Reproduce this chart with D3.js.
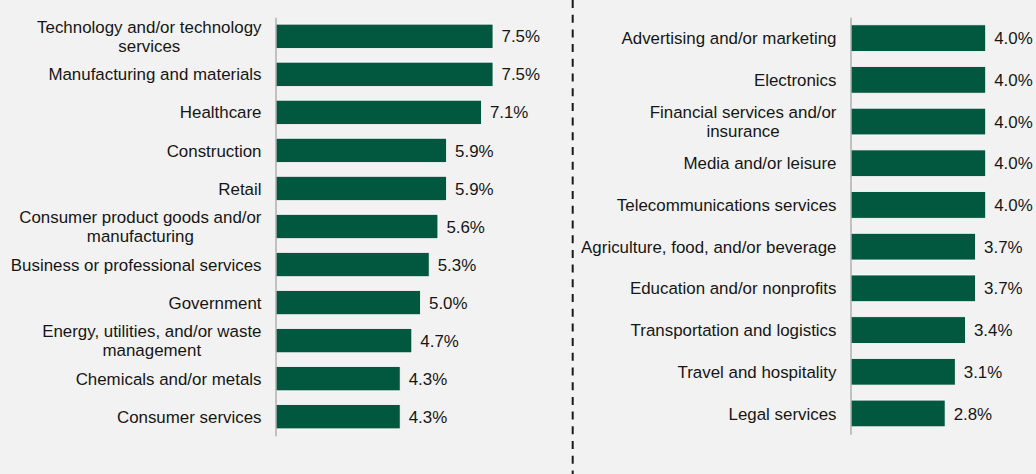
<!DOCTYPE html>
<html>
<head>
<meta charset="utf-8">
<script src="https://cdn.jsdelivr.net/npm/d3@7"></script>
<style>
  html, body { margin: 0; padding: 0; background: #f2f2f2; }
  svg { display: block; }
  text { font-family: "Liberation Sans", Arial, sans-serif; fill: #161616; }
</style>
</head>
<body>
<svg id="chart" width="1036" height="474"></svg>
<script>
// Industry shares, split across two panels (labels use "|" for line breaks)
const leftCategories = [
  "Technology and/or technology|services",
  "Manufacturing and materials",
  "Healthcare",
  "Construction",
  "Retail",
  "Consumer product goods and/or|manufacturing",
  "Business or professional services",
  "Government",
  "Energy, utilities, and/or waste|management",
  "Chemicals and/or metals",
  "Consumer services"
];
const leftValues = [7.5, 7.5, 7.1, 5.9, 5.9, 5.6, 5.3, 5.0, 4.7, 4.3, 4.3];

const rightCategories = [
  "Advertising and/or marketing",
  "Electronics",
  "Financial services and/or|insurance",
  "Media and/or leisure",
  "Telecommunications services",
  "Agriculture, food, and/or beverage",
  "Education and/or nonprofits",
  "Transportation and logistics",
  "Travel and hospitality",
  "Legal services"
];
const rightValues = [4.0, 4.0, 4.0, 4.0, 4.0, 3.7, 3.7, 3.4, 3.1, 2.8];

const barColor = "#02573f";
const fontSize = 16.9;
const svg = d3.select("#chart");

function drawPanel(categories, values, opts) {
  const data = categories.map((c, i) => ({ cat: c, value: values[i] }));
  const g = svg.append("g");

  const y = d3.scaleBand()
    .domain(categories)
    .range([opts.top, opts.bottom])
    .paddingInner(0.36)
    .paddingOuter(0.18);

  const x = d3.scaleLinear()
    .domain([0, opts.maxValue])
    .range([opts.axisX, opts.axisX + opts.maxValue * opts.pxPerUnit]);

  // bars
  g.selectAll("rect.bar")
    .data(data)
    .join("rect")
    .attr("class", "bar")
    .attr("x", x(0))
    .attr("y", d => y(d.cat))
    .attr("width", d => x(d.value) - x(0))
    .attr("height", y.bandwidth())
    .attr("fill", barColor)
    .attr("stroke", "#ffffff")
    .attr("stroke-width", 0.8);

  // value labels
  g.selectAll("text.value")
    .data(data)
    .join("text")
    .attr("class", "value")
    .attr("x", d => x(d.value) + 8.5)
    .attr("y", d => y(d.cat) + y.bandwidth() / 2)
    .attr("dy", "0.36em")
    .attr("font-size", fontSize)
    .text(d => d.value.toFixed(1) + "%");

  // category axis line
  const axis = d3.axisLeft(y).tickSize(0).tickFormat("");
  const axisG = g.append("g")
    .attr("transform", `translate(${opts.axisX},0)`)
    .call(axis);
  axisG.select(".domain").attr("stroke", "#b0b0b0").attr("stroke-width", 1.5);

  // category labels: wrapped lines centred within a right-aligned block
  const lineH = 19;
  const rightEdge = opts.axisX - 14;
  data.forEach(d => {
    const lines = d.cat.split("|");
    const t = g.append("text")
      .attr("font-size", fontSize)
      .attr("text-anchor", lines.length > 1 ? "middle" : "end");
    const cy = y(d.cat) + y.bandwidth() / 2;
    const y0 = cy - (lines.length - 1) * lineH / 2;
    const spans = lines.map((ln, i) => t.append("tspan")
      .attr("y", y0 + i * lineH)
      .attr("dy", "0.36em")
      .text(ln));
    if (lines.length > 1) {
      const w = d3.max(spans, s => s.node().getComputedTextLength());
      spans.forEach(s => s.attr("x", rightEdge - w / 2));
    } else {
      spans.forEach(s => s.attr("x", rightEdge));
    }
  });
}

drawPanel(leftCategories, leftValues, {
  axisX: 275.5, top: 17.3, bottom: 435.7, maxValue: 8, pxPerUnit: 29.0
});
drawPanel(rightCategories, rightValues, {
  axisX: 850.5, top: 17.3, bottom: 434.3, maxValue: 4.5, pxPerUnit: 33.8
});

// dashed divider between the two panels
svg.append("line")
  .attr("x1", 572.7).attr("x2", 572.7)
  .attr("y1", 0).attr("y2", 474)
  .attr("stroke", "#1a1a1a")
  .attr("stroke-width", 2)
  .attr("stroke-dasharray", "8,6.7");
</script>
</body>
</html>
